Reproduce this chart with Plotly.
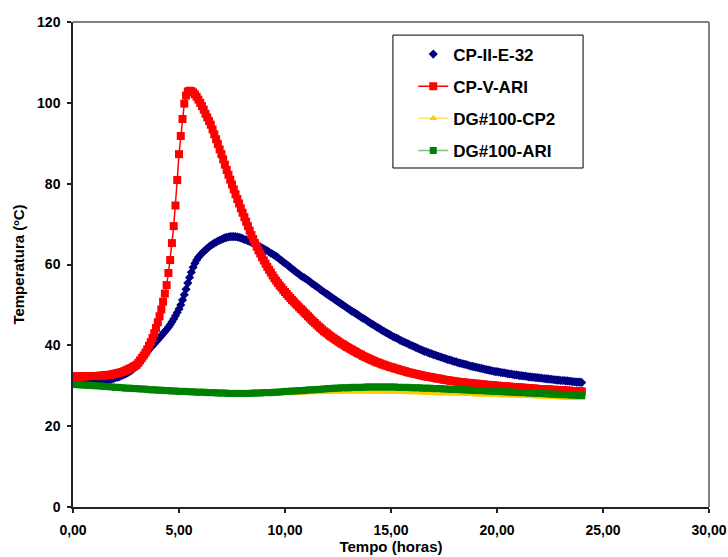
import plotly.graph_objects as go

# ---------------- data ----------------
# time base: CP series logged every 5 minutes, DG series every 10 minutes (hours)
time_5min = [i / 12 for i in range(289)]
time_10min = [i / 6 for i in range(145)]

cp_ii_e_32 = [
    31.0,31.0,31.0,31.0,31.0,31.0,31.0,31.0,31.0,31.0,31.1,31.1,
    31.1,31.1,31.1,31.2,31.2,31.2,31.3,31.4,31.5,31.6,31.7,31.8,
    32.0,32.1,32.2,32.4,32.6,32.8,33.0,33.2,33.5,33.8,34.1,34.5,
    34.8,35.4,36.0,36.6,37.2,37.8,38.4,38.9,39.4,39.9,40.4,40.9,
    41.4,41.9,42.4,42.9,43.4,43.9,44.5,45.1,45.8,46.5,47.3,48.1,
    49.0,50.0,51.2,52.5,53.9,55.4,56.8,58.1,59.3,60.3,61.1,61.8,
    62.3,62.8,63.2,63.6,64.0,64.4,64.7,65.0,65.3,65.5,65.8,66.0,
    66.2,66.4,66.6,66.7,66.8,66.9,66.9,66.9,66.9,66.8,66.7,66.6,
    66.4,66.2,66.1,65.9,65.7,65.5,65.3,65.1,64.8,64.6,64.4,64.1,
    63.9,63.6,63.4,63.1,62.8,62.6,62.3,62.0,61.7,61.3,61.0,60.6,
    60.3,60.0,59.6,59.3,58.9,58.6,58.2,57.9,57.6,57.2,56.9,56.7,
    56.4,56.1,55.8,55.4,55.1,54.8,54.5,54.2,53.8,53.5,53.2,52.9,
    52.6,52.3,52.0,51.7,51.4,51.1,50.8,50.5,50.2,49.9,49.6,49.3,
    49.0,48.7,48.4,48.2,47.9,47.6,47.3,47.0,46.7,46.5,46.2,45.9,
    45.6,45.3,45.1,44.8,44.5,44.3,44.0,43.7,43.5,43.2,43.0,42.7,
    42.5,42.2,42.0,41.8,41.6,41.3,41.1,40.9,40.7,40.5,40.3,40.1,
    39.9,39.7,39.5,39.3,39.1,38.9,38.7,38.5,38.4,38.2,38.0,37.9,
    37.7,37.6,37.4,37.3,37.1,37.0,36.8,36.7,36.5,36.4,36.3,36.1,
    36.0,35.9,35.7,35.6,35.5,35.4,35.3,35.2,35.0,34.9,34.8,34.7,
    34.6,34.5,34.4,34.3,34.2,34.1,34.0,33.9,33.8,33.7,33.6,33.5,
    33.5,33.4,33.3,33.2,33.2,33.1,33.0,32.9,32.9,32.8,32.7,32.7,
    32.6,32.5,32.5,32.4,32.4,32.3,32.2,32.2,32.1,32.1,32.0,32.0,
    31.9,31.9,31.8,31.8,31.7,31.7,31.6,31.6,31.5,31.5,31.4,31.4,
    31.3,31.3,31.3,31.2,31.2,31.1,31.1,31.0,31.0,30.9,30.9,30.9,
    30.8,
]

cp_v_ari = [
    32.3,32.3,32.3,32.3,32.3,32.3,32.3,32.3,32.4,32.4,32.4,32.4,
    32.4,32.4,32.4,32.5,32.5,32.5,32.6,32.6,32.7,32.7,32.8,32.9,
    33.0,33.1,33.2,33.3,33.4,33.6,33.8,34.0,34.2,34.4,34.7,34.9,
    35.2,35.7,36.3,36.9,37.5,38.2,39.0,39.9,40.8,41.8,43.0,44.3,
    45.7,47.2,48.9,50.8,52.8,54.9,57.9,61.1,65.3,69.5,74.6,80.9,
    87.3,91.8,96.0,99.8,101.8,102.8,103.0,102.9,102.6,102.1,101.5,100.8,
    100.0,99.2,98.3,97.3,96.4,95.5,94.6,93.4,92.2,91.0,89.8,88.5,
    87.3,86.0,84.7,83.4,82.2,81.0,79.8,78.6,77.4,76.2,75.1,73.9,
    72.8,71.7,70.6,69.5,68.4,67.3,66.3,65.3,64.4,63.5,62.7,61.8,
    61.0,60.2,59.4,58.7,58.0,57.3,56.6,56.0,55.4,54.8,54.3,53.7,
    53.2,52.7,52.2,51.7,51.2,50.8,50.3,49.9,49.4,49.0,48.6,48.1,
    47.7,47.2,46.8,46.3,45.9,45.5,45.1,44.7,44.3,43.9,43.5,43.2,
    42.9,42.5,42.2,41.9,41.6,41.3,41.0,40.7,40.4,40.2,39.9,39.6,
    39.4,39.1,38.9,38.6,38.4,38.1,37.9,37.7,37.4,37.2,37.0,36.8,
    36.6,36.4,36.2,36.0,35.8,35.7,35.5,35.3,35.2,35.0,34.9,34.7,
    34.6,34.5,34.3,34.2,34.1,33.9,33.8,33.7,33.6,33.4,33.3,33.2,
    33.1,33.0,32.9,32.8,32.7,32.6,32.5,32.4,32.3,32.2,32.2,32.1,
    32.0,31.9,31.8,31.8,31.7,31.6,31.5,31.4,31.4,31.3,31.2,31.2,
    31.1,31.0,31.0,30.9,30.9,30.8,30.8,30.7,30.7,30.6,30.6,30.5,
    30.5,30.5,30.4,30.4,30.3,30.3,30.2,30.2,30.2,30.1,30.1,30.0,
    30.0,30.0,29.9,29.9,29.9,29.8,29.8,29.8,29.7,29.7,29.7,29.6,
    29.6,29.6,29.5,29.5,29.5,29.4,29.4,29.4,29.3,29.3,29.3,29.2,
    29.2,29.2,29.2,29.1,29.1,29.1,29.0,29.0,29.0,29.0,28.9,28.9,
    28.9,28.9,28.8,28.8,28.8,28.8,28.7,28.7,28.7,28.7,28.6,28.6,
    28.6,
]

dg100_cp2 = [
    30.3,30.3,30.2,30.2,30.1,30.1,
    30.0,30.0,29.9,29.8,29.8,29.7,
    29.6,29.6,29.5,29.4,29.4,29.3,
    29.3,29.2,29.2,29.1,29.0,29.0,
    28.9,28.9,28.8,28.8,28.7,28.7,
    28.6,28.6,28.6,28.5,28.5,28.5,
    28.5,28.4,28.4,28.4,28.3,28.3,
    28.3,28.3,28.2,28.2,28.2,28.2,
    28.2,28.1,28.1,28.1,28.1,28.1,
    28.1,28.1,28.1,28.1,28.1,28.1,
    28.2,28.2,28.2,28.2,28.2,28.2,
    28.3,28.3,28.3,28.3,28.3,28.4,
    28.4,28.4,28.4,28.4,28.5,28.5,
    28.5,28.5,28.5,28.5,28.5,28.5,
    28.5,28.5,28.5,28.5,28.5,28.4,
    28.4,28.4,28.4,28.4,28.4,28.3,
    28.3,28.3,28.3,28.2,28.2,28.2,
    28.2,28.1,28.1,28.1,28.1,28.0,
    28.0,28.0,28.0,27.9,27.9,27.9,
    27.8,27.8,27.8,27.8,27.7,27.7,
    27.7,27.6,27.6,27.6,27.5,27.5,
    27.5,27.4,27.4,27.4,27.4,27.3,
    27.3,27.3,27.2,27.2,27.2,27.1,
    27.1,27.0,27.0,27.0,26.9,26.9,
    26.9,
]

dg100_ari = [
    30.3,30.3,30.2,30.2,30.1,30.1,
    30.0,30.0,29.9,29.8,29.8,29.7,
    29.6,29.6,29.5,29.4,29.4,29.3,
    29.3,29.2,29.2,29.1,29.0,29.0,
    28.9,28.9,28.8,28.8,28.7,28.7,
    28.6,28.6,28.6,28.5,28.5,28.4,
    28.4,28.4,28.3,28.3,28.3,28.2,
    28.2,28.2,28.1,28.1,28.1,28.1,
    28.1,28.1,28.1,28.2,28.2,28.2,
    28.3,28.3,28.3,28.4,28.4,28.5,
    28.6,28.6,28.7,28.7,28.8,28.8,
    28.9,29.0,29.0,29.1,29.1,29.2,
    29.3,29.3,29.4,29.4,29.5,29.5,
    29.5,29.6,29.6,29.6,29.6,29.7,
    29.7,29.7,29.7,29.7,29.7,29.7,
    29.7,29.7,29.6,29.6,29.6,29.6,
    29.5,29.5,29.5,29.4,29.4,29.4,
    29.3,29.3,29.3,29.2,29.2,29.1,
    29.1,29.1,29.0,29.0,28.9,28.9,
    28.8,28.8,28.8,28.7,28.7,28.6,
    28.6,28.6,28.5,28.5,28.4,28.4,
    28.3,28.3,28.3,28.2,28.2,28.1,
    28.1,28.1,28.0,28.0,27.9,27.9,
    27.8,27.8,27.8,27.7,27.7,27.6,
    27.6,
]

series_names = ["CP-II-E-32", "CP-V-ARI", "DG#100-CP2", "DG#100-ARI"]

x_tick_values = [0, 5, 10, 15, 20, 25, 30]
x_tick_labels = ["0,00", "5,00", "10,00", "15,00", "20,00", "25,00", "30,00"]
y_tick_values = [0, 20, 40, 60, 80, 100, 120]
y_tick_labels = ["0", "20", "40", "60", "80", "100", "120"]

x_title = "Tempo (horas)"
y_title = "Temperatura (ºC)"

# ---------------- figure ----------------
FONT = "Liberation Sans, Arial, sans-serif"

fig = go.Figure()

fig.add_trace(go.Scatter(
    x=time_5min, y=cp_ii_e_32, name=series_names[0], mode="markers",
    legendgroup="g1",
    marker=dict(symbol="diamond", size=7, color="#000080", line=dict(width=0)),
))
fig.add_trace(go.Scatter(
    x=time_5min, y=cp_v_ari, name=series_names[1], mode="lines+markers",
    legendgroup="g2",
    line=dict(color="#FF0000", width=1.5),
    marker=dict(symbol="square", size=8, color="#FF0000", line=dict(width=0)),
))
fig.add_trace(go.Scatter(
    x=time_10min, y=dg100_cp2, name=series_names[2], mode="lines+markers",
    legendgroup="g3",
    line=dict(color="#FFE27A", width=1.5),
    marker=dict(symbol="triangle-up", size=7, color="#FFCC00", line=dict(width=0)),
))
fig.add_trace(go.Scatter(
    x=time_10min, y=dg100_ari, name=series_names[3], mode="lines+markers",
    legendgroup="g4",
    line=dict(color="#80C080", width=1.5),
    marker=dict(symbol="square", size=7, color="#008000", line=dict(width=0)),
))

fig.update_layout(
    width=728, height=557,
    margin=dict(l=73, r=19, t=22, b=50, autoexpand=False),
    paper_bgcolor="white", plot_bgcolor="white",
    font=dict(family=FONT, size=14, color="black", weight="bold"),
    showlegend=True,
    legend=dict(
        x=0.535, y=0.970, xanchor="left", yanchor="top",
        bgcolor="rgba(0,0,0,0)", borderwidth=0,
        font=dict(family=FONT, size=17, color="black", weight="bold"),
        tracegroupgap=7,
    ),
    xaxis=dict(
        range=[0, 30], tickmode="array", tickvals=x_tick_values, ticktext=x_tick_labels,
        ticks="outside", ticklen=4, tickwidth=1.5, tickcolor="#222",
        showline=True, linecolor="#222", linewidth=1.5,
        showgrid=False, zeroline=False, automargin=False,
        tickfont=dict(family=FONT, size=14, color="black", weight="bold"),
        ticklabelstandoff=5,
        title=dict(text=x_title, standoff=4,
                   font=dict(family=FONT, size=15, color="black", weight="bold")),
    ),
    yaxis=dict(
        range=[0, 120], tickmode="array", tickvals=y_tick_values, ticktext=y_tick_labels,
        ticks="outside", ticklen=4, tickwidth=1.5, tickcolor="#222",
        showline=True, linecolor="#222", linewidth=1.5,
        showgrid=False, zeroline=False, automargin=False,
        tickfont=dict(family=FONT, size=14, color="black", weight="bold"),
        ticklabelstandoff=4,
        title=dict(text=y_title, standoff=9,
                   font=dict(family=FONT, size=15, color="black", weight="bold")),
    ),
    shapes=[
        # gray plot-area frame on top and right
        dict(type="line", xref="paper", yref="paper", x0=0, x1=1, y0=1, y1=1,
             line=dict(color="#808080", width=2)),
        dict(type="line", xref="paper", yref="paper", x0=1, x1=1, y0=0, y1=1,
             line=dict(color="#808080", width=2)),
        # legend frame
        dict(type="rect", xref="paper", yref="paper",
             x0=0.503, x1=0.802, y0=0.699, y1=0.973,
             line=dict(color="black", width=1), fillcolor="rgba(0,0,0,0)"),
    ],
)

fig.write_html(
    "out.html",
    config={"displayModeBar": False},
    post_script="document.body.style.margin='0';document.body.style.overflow='hidden';",
)
